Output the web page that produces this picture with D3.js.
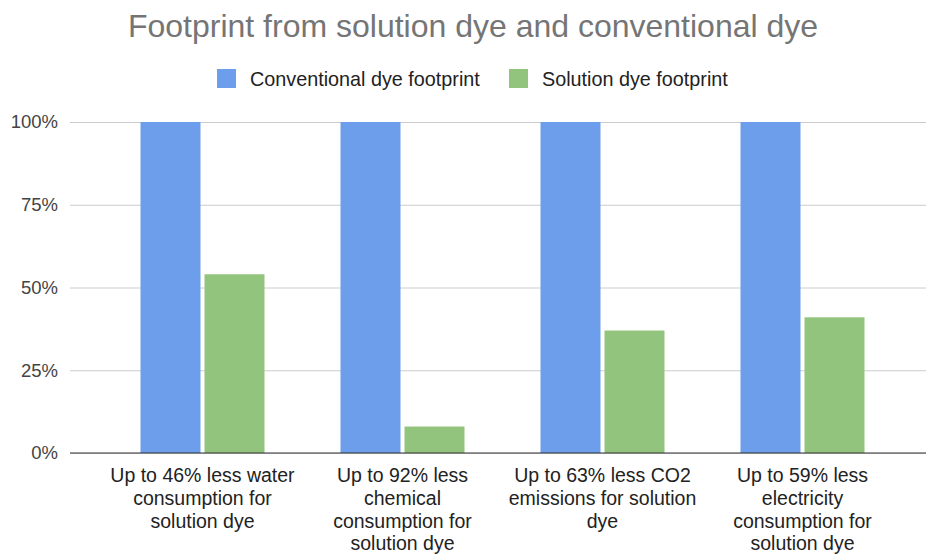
<!DOCTYPE html>
<html>
<head>
<meta charset="utf-8">
<script src="https://cdn.jsdelivr.net/npm/d3@7"></script>
<style>
  html, body { margin: 0; padding: 0; background: #fff; }
  svg { display: block; font-family: "Liberation Sans", Arial, sans-serif; }
</style>
</head>
<body>
<svg id="chart" width="926" height="554"></svg>
<script>
// Chart data
const categories = [
  "Up to 46% less water consumption for solution dye",
  "Up to 92% less chemical consumption for solution dye",
  "Up to 63% less CO2 emissions for solution dye",
  "Up to 59% less electricity consumption for solution dye"
];
// Category labels, broken into display lines
const categoryLines = [
  ["Up to 46% less water", "consumption for", "solution dye"],
  ["Up to 92% less", "chemical", "consumption for", "solution dye"],
  ["Up to 63% less CO2", "emissions for solution", "dye"],
  ["Up to 59% less", "electricity", "consumption for", "solution dye"]
];
const seriesNames = ["Conventional dye footprint", "Solution dye footprint"];
const seriesColors = ["#6d9eeb", "#93c47d"];
const conventional = [1, 1, 1, 1];
// Solution dye footprint = 100% minus the stated reduction
const solution = [1 - 0.46, 1 - 0.92, 1 - 0.63, 1 - 0.59];
const yTicks = [0, 0.25, 0.5, 0.75, 1];
const titleText = "Footprint from solution dye and conventional dye";

const svg = d3.select("#chart");

const plot = { left: 70, right: 926, top: 122, bottom: 453 };

const y = d3.scaleLinear().domain([0, 1]).range([plot.bottom, plot.top]);
const x0 = d3.scaleBand().domain(categories).range([102.5, 902.5])
  .paddingInner(0.38).paddingOuter(0.19);
const x1 = d3.scaleBand().domain(seriesNames).range([0, x0.bandwidth()])
  .paddingInner(0.0625);

// Title
svg.append("text")
  .attr("x", 473).attr("y", 37)
  .attr("text-anchor", "middle")
  .attr("fill", "#757575")
  .attr("font-size", 32)
  .text(titleText);

// Legend
const legendItems = [
  { name: seriesNames[0], color: seriesColors[0], x: 217 },
  { name: seriesNames[1], color: seriesColors[1], x: 509 }
];
const lg = svg.append("g");
legendItems.forEach(d => {
  lg.append("rect").attr("x", d.x).attr("y", 69).attr("width", 19).attr("height", 19)
    .attr("fill", d.color);
  lg.append("text").attr("x", d.x + 33).attr("y", 86)
    .attr("font-size", 19.8).attr("fill", "#222").text(d.name);
});

// Gridlines and y-axis labels
const yAxis = d3.axisLeft(y).tickValues(yTicks)
  .tickFormat(d3.format(".0%"))
  .tickSize(-(plot.right - plot.left)).tickPadding(12);
const yg = svg.append("g").attr("transform", `translate(${plot.left},0)`).call(yAxis);
yg.select(".domain").remove();
yg.selectAll(".tick line").attr("stroke", "#cccccc").attr("stroke-width", 1);
yg.selectAll(".tick text")
  .attr("font-size", 18.5).attr("fill", "#444")
  .attr("font-family", "Liberation Sans, Arial, sans-serif");

// Bars
const groups = svg.append("g").selectAll("g")
  .data(categories)
  .join("g")
  .attr("transform", d => `translate(${x0(d)},0)`);

groups.selectAll("rect")
  .data((d, i) => [
    { s: seriesNames[0], v: conventional[i], c: seriesColors[0] },
    { s: seriesNames[1], v: solution[i], c: seriesColors[1] }
  ])
  .join("rect")
  .attr("x", d => x1(d.s))
  .attr("width", x1.bandwidth())
  .attr("y", d => y(d.v))
  .attr("height", d => y(0) - y(d.v))
  .attr("fill", d => d.c);

// Baseline
svg.append("line")
  .attr("x1", plot.left).attr("x2", plot.right)
  .attr("y1", y(0)).attr("y2", y(0))
  .attr("stroke", "#333").attr("stroke-width", 1.2);

// Category labels
const xl = svg.append("g");
categories.forEach((c, i) => {
  const cx = x0(c) + x0.bandwidth() / 2;
  const t = xl.append("text")
    .attr("text-anchor", "middle")
    .attr("font-size", 19.5).attr("fill", "#222");
  categoryLines[i].forEach((line, j) => {
    t.append("tspan").attr("x", cx).attr("y", 482 + j * 22.8).text(line);
  });
});
</script>
</body>
</html>
